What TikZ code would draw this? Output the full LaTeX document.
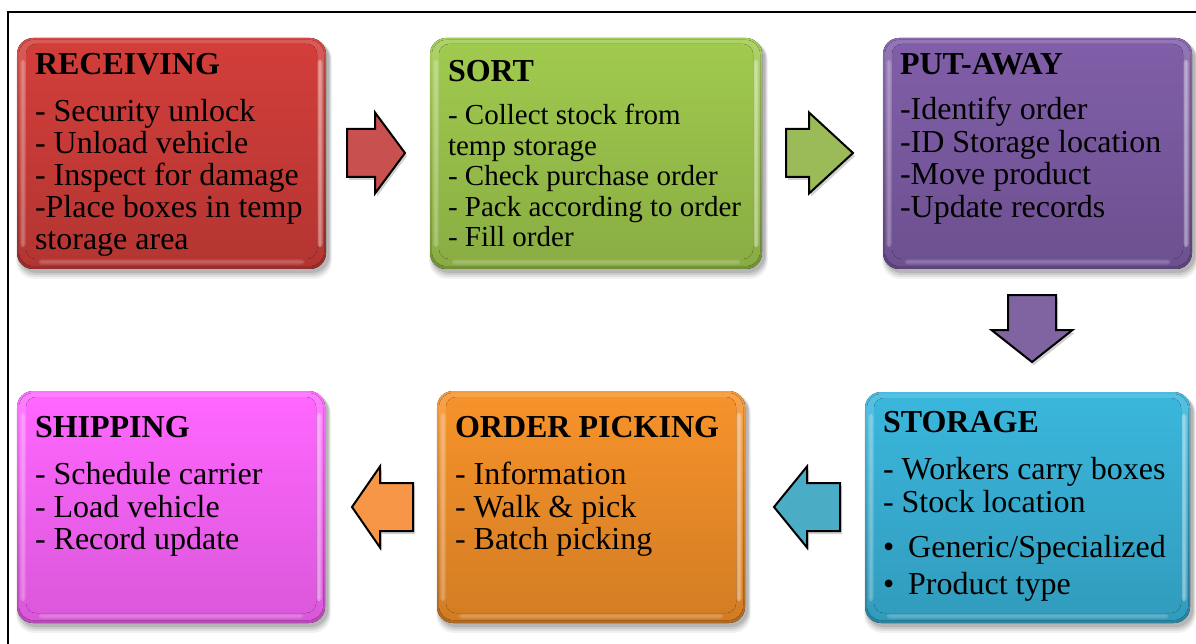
\documentclass[tikz,border=0pt]{standalone}
\usepackage{fontspec}
\setmainfont{Liberation Serif}
\usetikzlibrary{calc}

% box colours (top of the panel)
\definecolor{recvC}{RGB}{210,62,58}
\definecolor{sortC}{RGB}{160,202,78}
\definecolor{putC}{RGB}{128,94,168}
\definecolor{storC}{RGB}{58,182,220}
\definecolor{pickC}{RGB}{246,146,42}
\definecolor{shipC}{RGB}{255,102,255}
% block arrow colours
\definecolor{arRed}{RGB}{200,80,78}
\definecolor{arGreen}{RGB}{155,187,89}
\definecolor{arPurple}{RGB}{128,100,162}
\definecolor{arBlue}{RGB}{75,172,198}
\definecolor{arOrange}{RGB}{247,150,70}

\tikzset{
  titletext/.style={anchor=base west, inner sep=0pt, font=\fontsize{32}{32}\selectfont\bfseries},
  bodytext/.style={anchor=base west, inner sep=0pt},
  arrowline/.style={draw=black, line width=2pt, line join=miter},
}

% lines of a box body: font size, baseline skip, rows
\newcommand\boxlines[3]{\fontsize{#1}{#2}\selectfont\begin{tabular}[t]{@{}l@{}}#3\end{tabular}}

% glossy rounded panel: name, x1, y1, x2, y2, colour
\newcommand\glossybox[6]{%
  \foreach \s/\o in {7/0.05,5/0.07,3/0.09,1/0.10}{
    \fill[black, opacity=\o, rounded corners=18pt]
      (#2+2-\s*0.4, #3+3) rectangle (#4+3+\s*0.4, #5+3+\s);
  }
  \fill[rounded corners=16pt, top color=#6!92!white, bottom color=#6!72!black]
    (#2,#3) rectangle (#4,#5);
  \fill[rounded corners=14pt, top color=#6!85!white, bottom color=#6!85!black]
    (#2+2,#3+2) rectangle (#4-2,#5-3);
  % soft rim highlights
  \foreach \w/\o in {0/0.10,1/0.10,2/0.10}{
    \fill[white, opacity=\o, rounded corners=3pt] (#2+3+\w,#3+22) rectangle (#2+9-\w,#5-22);
    \fill[white, opacity=\o*1.6, rounded corners=3pt] (#4-9+\w,#3+22) rectangle (#4-3-\w,#5-22);
    \fill[white, opacity=\o*0.8, rounded corners=3pt] (#2+22,#5-10+\w) rectangle (#4-22,#5-4-\w);
  }
  \fill[rounded corners=10pt, top color=#6, bottom color=#6!86!black]
    (#2+9,#3+6) rectangle (#4-9,#5-10);
  \node[inner sep=0pt, minimum width=#4-#2, minimum height=#5-#3]
    (#1) at ({(#2+#4)/2},{(#3+#5)/2}) {};
}

% block arrow: name, tail x, tail y, rotation, length, shaft length, colour
\newcommand\blockarrow[7]{%
  \begin{scope}[shift={(#2+2,#3+3)}, rotate=#4]
    \fill[black, opacity=0.18] (0,-24) -- (#6,-24) -- (#6,-40.5) -- (#5,0)
      -- (#6,40.5) -- (#6,24) -- (0,24) -- cycle;
  \end{scope}
  \begin{scope}[shift={(#2,#3)}, rotate=#4]
    \draw[arrowline, fill=#7] (0,-24) -- (#6,-24) -- (#6,-40.5) -- (#5,0)
      -- (#6,40.5) -- (#6,24) -- (0,24) -- cycle;
    \coordinate (#1) at (#5,0);
  \end{scope}
}

\begin{document}
\begin{tikzpicture}[x=1pt, y=-1pt]
  \useasboundingbox (0,0) rectangle (1196,644);
  \fill[white] (0,0) rectangle (1196,644);

  % frame
  \draw[line width=1.4pt] (1196,12) -- (8,12) -- (8,644);

  % panels
  \glossybox{recv}{17}{38}{326}{269}{recvC}
  \glossybox{sort}{430}{38}{762}{269}{sortC}
  \glossybox{put}{883}{38}{1192}{269}{putC}
  \glossybox{ship}{17}{391}{325}{623}{shipC}
  \glossybox{pick}{437}{391}{745}{623}{pickC}
  \glossybox{stor}{865}{392}{1190}{623}{storC}

  % flow arrows
  \blockarrow{recv2sort}{347}{153}{0}{58}{28}{arRed}
  \blockarrow{sort2put}{786}{153}{0}{67}{23}{arGreen}
  \blockarrow{put2stor}{1032}{295}{-90}{67}{35}{arPurple}
  \blockarrow{stor2pick}{840}{507}{180}{66}{33}{arBlue}
  \blockarrow{pick2ship}{413}{507}{180}{61}{33}{arOrange}

  % RECEIVING
  \node[titletext] (recvT) at ([shift={(18,37)}]recv.north west) {RECEIVING};
  \node[bodytext] (recvB) at ([shift={(18,84)}]recv.north west)
    {\boxlines{32}{32}{- Security unlock\\- Unload vehicle\\- Inspect for damage\\-Place boxes in temp\\storage area}};

  % SORT
  \node[titletext] (sortT) at ([shift={(18,44)}]sort.north west) {SORT};
  \node[bodytext] (sortB) at ([shift={(18,87)}]sort.north west)
    {\boxlines{29}{30.5}{- Collect stock from\\temp storage\\- Check purchase order\\- Pack according to order\\- Fill order}};

  % PUT-AWAY
  \node[titletext] (putT) at ([shift={(17,37)}]put.north west) {PUT-AWAY};
  \node[bodytext] (putB) at ([shift={(17,82)}]put.north west)
    {\boxlines{32}{32.5}{-Identify order\\-ID Storage location\\-Move product\\-Update records}};

  % SHIPPING
  \node[titletext] (shipT) at ([shift={(18,47)}]ship.north west) {SHIPPING};
  \node[bodytext] (shipB) at ([shift={(18,94)}]ship.north west)
    {\boxlines{32}{32.5}{- Schedule carrier\\- Load vehicle\\- Record update}};

  % ORDER PICKING
  \node[titletext] (pickT) at ([shift={(18,47)}]pick.north west) {ORDER PICKING};
  \node[bodytext] (pickB) at ([shift={(18,94)}]pick.north west)
    {\boxlines{32}{32.5}{- Information\\- Walk \& pick\\- Batch picking}};

  % STORAGE
  \node[titletext] (storT) at ([shift={(18,41)}]stor.north west) {STORAGE};
  \node[bodytext] (storB) at ([shift={(18,88)}]stor.north west)
    {\boxlines{32}{33}{- Workers carry boxes\\- Stock location}};
  \node[bodytext] (storL) at ([shift={(18,166)}]stor.north west)
    {\boxlines{32}{37}{\textbullet\hspace{14pt}Generic/Specialized\\\textbullet\hspace{14pt}Product type}};
\end{tikzpicture}
\end{document}
